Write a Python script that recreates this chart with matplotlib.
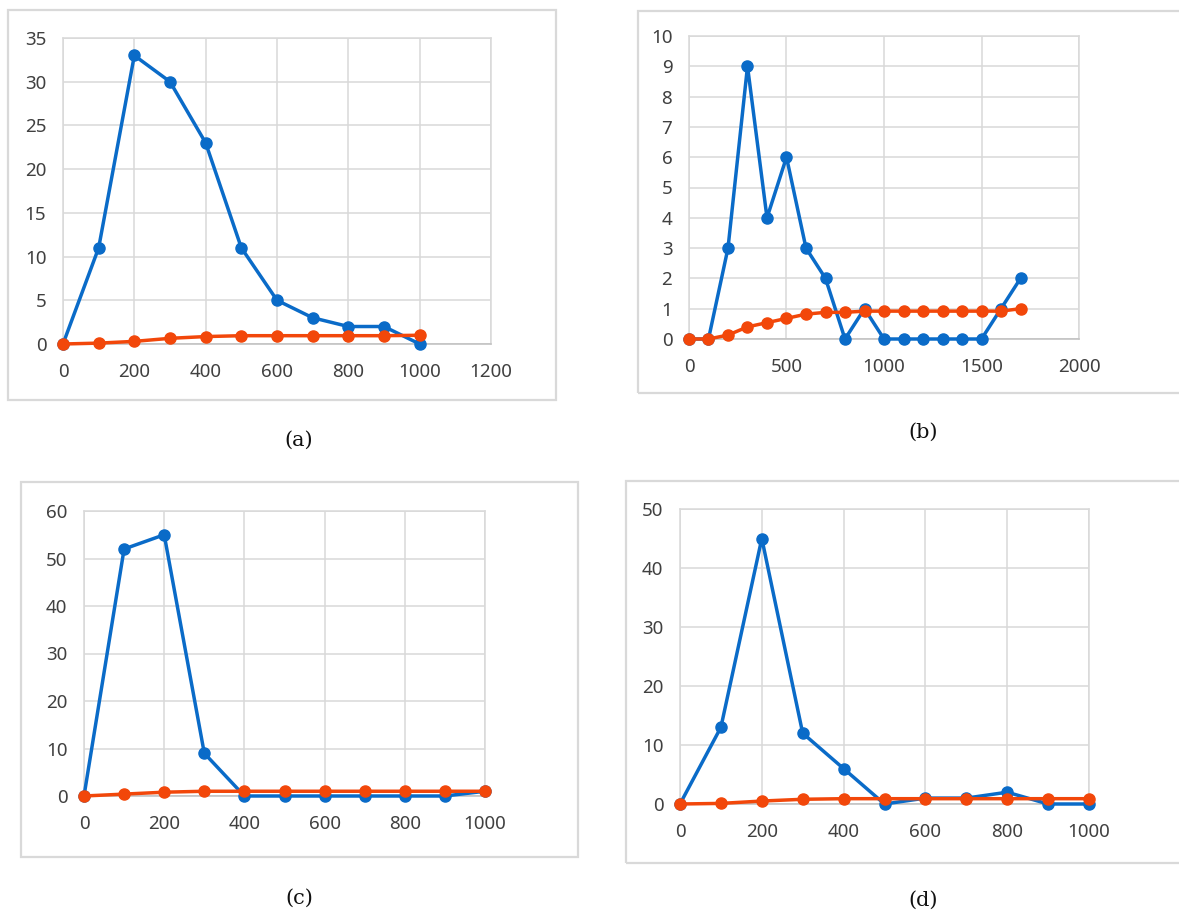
import matplotlib
matplotlib.use("Agg")
import matplotlib.pyplot as plt
from matplotlib.patches import Rectangle
import numpy as np

# ---- data ----
x_a = [0, 100, 200, 300, 400, 500, 600, 700, 800, 900, 1000]
blue_a = [0, 11, 33, 30, 23, 11, 5, 3, 2, 2, 0]
orange_a = [0, 0.1, 0.3, 0.65, 0.85, 0.95, 0.95, 0.95, 0.95, 0.95, 1.0]

x_b = [0, 100, 200, 300, 400, 500, 600, 700, 800, 900,
       1000, 1100, 1200, 1300, 1400, 1500, 1600, 1700]
blue_b = [0, 0, 3, 9, 4, 6, 3, 2, 0, 1, 0, 0, 0, 0, 0, 0, 1, 2]
orange_b = [0, 0, 0.13, 0.4, 0.54, 0.68, 0.82, 0.88, 0.88, 0.92,
            0.92, 0.92, 0.92, 0.92, 0.92, 0.92, 0.92, 1.0]

x_c = [0, 100, 200, 300, 400, 500, 600, 700, 800, 900, 1000]
blue_c = [0, 52, 55, 9, 0, 0, 0, 0, 0, 0, 1]
orange_c = [0, 0.4, 0.8, 1.0, 1.0, 1.0, 1.0, 1.0, 1.0, 1.0, 1.0]

x_d = [0, 100, 200, 300, 400, 500, 600, 700, 800, 900, 1000]
blue_d = [0, 13, 45, 12, 6, 0, 1, 1, 2, 0, 0]
orange_d = [0, 0.1, 0.5, 0.8, 0.9, 0.9, 0.9, 0.9, 0.9, 0.9, 0.9]

labels = ["(a)", "(b)", "(c)", "(d)"]

W, H = 1179, 911
BLUE = "#0A6BC8"
ORANGE = "#F2470A"
GRID = "#D9D9D9"
TICK = "#404040"

fig = plt.figure(figsize=(W / 100, H / 100), dpi=100, facecolor="white")


def _rect(left, top, right, bottom):
    # pixel box (y from top) -> figure fraction
    return [left / W, 1 - bottom / H, (right - left) / W, (bottom - top) / H]


def _panel(box, frame, x, blue, orange, xmax, xstep, ymax, ystep, label, label_xy):
    # light grey chart frame, like an Excel chart object
    fl, ft, fr, fb = frame
    fig.patches.append(Rectangle((fl / W, 1 - fb / H), (fr - fl) / W, (fb - ft) / H,
                                 transform=fig.transFigure, fill=False,
                                 edgecolor=GRID, linewidth=1.6))
    ax = fig.add_axes(_rect(*box))
    ax.plot(x, blue, color=BLUE, lw=2.5, marker="o", ms=8, clip_on=False, zorder=3)
    ax.plot(x, orange, color=ORANGE, lw=2.5, marker="o", ms=8, clip_on=False, zorder=4)
    ax.set_xlim(0, xmax)
    ax.set_ylim(0, ymax)
    ax.set_xticks(np.arange(0, xmax + 1, xstep))
    ax.set_yticks(np.arange(0, ymax + 0.001, ystep))
    ax.grid(True, color=GRID, lw=1.1)
    ax.set_axisbelow(True)
    for s in ax.spines.values():
        s.set_color(GRID)
        s.set_linewidth(1.1)
    ax.spines["bottom"].set_color("#BFBFBF")
    ax.tick_params(axis="x", length=0, pad=14, labelsize=13.5, labelcolor=TICK)
    ax.tick_params(axis="y", length=0, pad=12, labelsize=13.5, labelcolor=TICK)
    for t in ax.get_xticklabels() + ax.get_yticklabels():
        t.set_fontfamily("Noto Sans")
    fig.text(label_xy[0] / W, 1 - label_xy[1] / H, label, ha="center", va="center",
             fontsize=15, family="DejaVu Serif", color="#111111")
    return ax


_panel((63, 38, 491, 344), (8, 10, 556, 400), x_a, blue_a, orange_a,
       1200, 200, 35, 5, labels[0], (299, 440))
_panel((689, 36, 1079, 339), (638, 11, 1185, 393), x_b, blue_b, orange_b,
       2000, 500, 10, 1, labels[1], (923, 432))
_panel((84, 511, 485, 796), (21, 482, 578, 857), x_c, blue_c, orange_c,
       1000, 200, 60, 10, labels[2], (299, 898))
_panel((680, 509, 1089, 804), (626, 481, 1185, 863), x_d, blue_d, orange_d,
       1000, 200, 50, 10, labels[3], (923, 900))

fig.savefig("out.png", dpi=100, facecolor="white")
